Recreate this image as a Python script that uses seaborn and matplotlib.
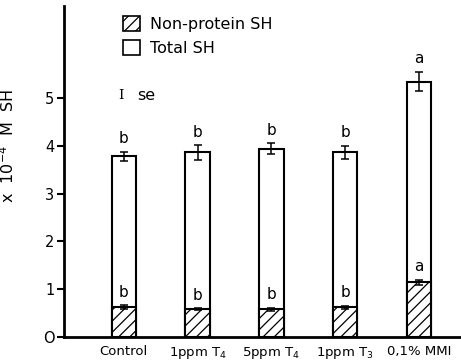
import matplotlib
matplotlib.use("Agg")
import matplotlib.pyplot as plt
from matplotlib.patches import Patch
import pandas as pd
import seaborn as sns

# Treatment groups and measured sulfhydryl levels (x 10^-4 M SH)
groups = ["Control", "1ppm T$_4$", "5ppm T$_4$", "1ppm T$_3$", "0,1% MMI"]
total_sh = [3.78, 3.86, 3.94, 3.86, 5.34]
total_se = [0.09, 0.15, 0.11, 0.13, 0.20]
nonprotein_sh = [0.62, 0.58, 0.58, 0.62, 1.14]
nonprotein_se = [0.04, 0.02, 0.03, 0.03, 0.06]
total_sig = ["b", "b", "b", "b", "a"]
nonprotein_sig = ["b", "b", "b", "b", "a"]
y_ticks = [0, 1, 2, 3, 4, 5]
y_ticklabels = ["O", "1", "2", "3", "4", "5"]

df = pd.DataFrame({
    "group": groups,
    "total": total_sh,
    "total_se": total_se,
    "nonprotein": nonprotein_sh,
    "nonprotein_se": nonprotein_se,
})

sns.set_theme(style="ticks")
plt.rcParams["font.family"] = ["DejaVu Sans"]
plt.rcParams["hatch.linewidth"] = 0.9
for key in ["text.color", "axes.labelcolor", "xtick.color", "ytick.color",
            "axes.edgecolor"]:
    plt.rcParams[key] = "black"

fig = plt.figure(figsize=(4.61, 3.64), dpi=100)
ax = fig.add_axes([0.139, 0.0742, 0.861, 0.909])

bar_w = 0.33
sns.barplot(data=df, x="group", y="total", color="white", saturation=1,
            edgecolor="black", linewidth=1.5, width=bar_w, errorbar=None, ax=ax)
sns.barplot(data=df, x="group", y="nonprotein", color="white", saturation=1,
            edgecolor="black", linewidth=1.5, width=bar_w, errorbar=None,
            hatch="///", ax=ax)

xs = list(range(len(groups)))
ax.errorbar(xs, df["total"], yerr=df["total_se"], fmt="none", ecolor="black",
            elinewidth=1.1, capsize=2.6, capthick=1.1, zorder=5)
ax.errorbar(xs, df["nonprotein"], yerr=df["nonprotein_se"], fmt="none",
            ecolor="black", elinewidth=1.1, capsize=2.6, capthick=1.1, zorder=5)

for x, v, e, s in zip(xs, total_sh, total_se, total_sig):
    ax.text(x, v + e + 0.12, s, ha="center", va="bottom", fontsize=11)
for x, v, e, s in zip(xs, nonprotein_sh, nonprotein_se, nonprotein_sig):
    ax.text(x, v + e + 0.12, s, ha="center", va="bottom", fontsize=11)

ax.set_xlim(-0.81, 4.57)
ax.set_ylim(0, 6.92)
ax.set_yticks(y_ticks)
ax.set_yticklabels(y_ticklabels, fontsize=10.5)
ax.tick_params(axis="y", direction="out", length=5, width=1.5, pad=2)
ax.tick_params(axis="x", length=0, pad=6, labelsize=9.5)
ax.set_xlabel("")
ax.set_ylabel("x  10$^{-4}$  M  SH", fontsize=11.5)
ax.yaxis.set_label_coords(-0.118, 0.577)

sns.despine(ax=ax)
ax.spines["left"].set_linewidth(2.0)
ax.spines["bottom"].set_linewidth(2.0)

handles = [Patch(facecolor="white", edgecolor="black", hatch="///", linewidth=1.2),
           Patch(facecolor="white", edgecolor="black", linewidth=1.2)]
leg = ax.legend(handles, ["Non-protein SH", "Total SH"], loc="upper left",
                bbox_to_anchor=(0.12, 1.005), frameon=False, fontsize=11.5,
                handlelength=1.1, handleheight=1.1, handletextpad=0.6,
                labelspacing=0.5, borderaxespad=0.3)
ax.text(0.143, 0.73, "I", transform=ax.transAxes, fontsize=9.5,
        family="DejaVu Serif", ha="center", va="center")
ax.text(0.185, 0.73, "se", transform=ax.transAxes, fontsize=11.5,
        ha="left", va="center")

fig.savefig("out.png", dpi=100)
